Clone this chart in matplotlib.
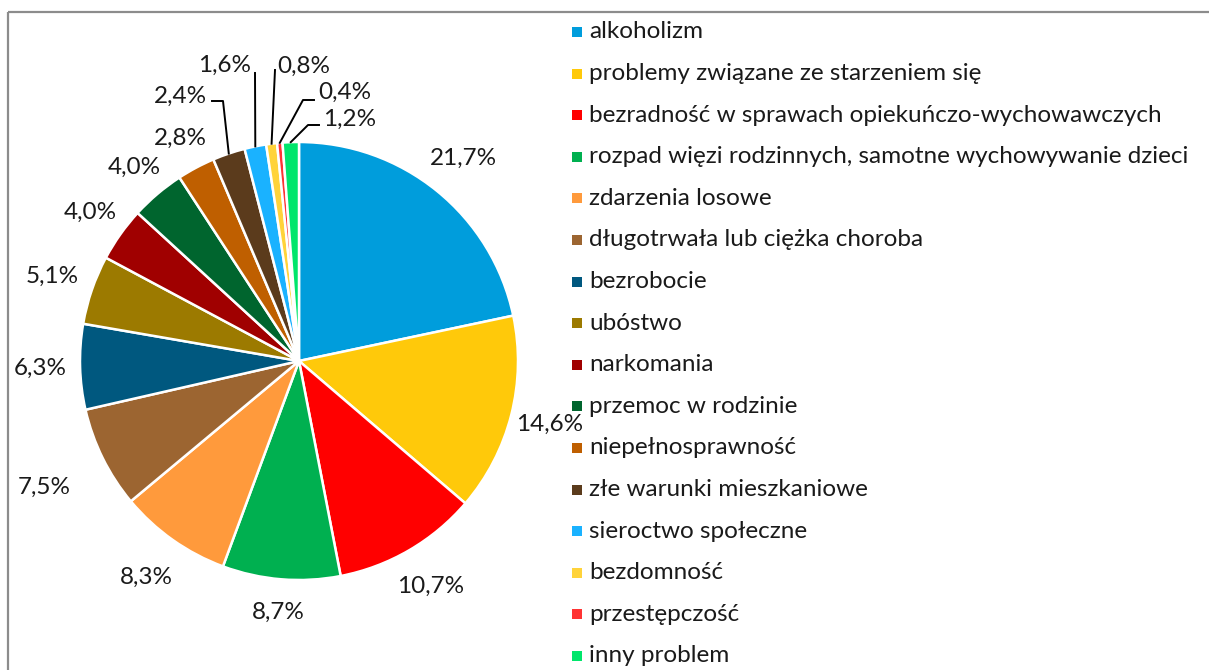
import numpy as np
import matplotlib.pyplot as plt
from matplotlib.patches import Rectangle

plt.rcParams['font.family'] = ['Lato', 'DejaVu Sans']

categories = ['alkoholizm',
              'problemy związane ze starzeniem się',
              'bezradność w sprawach opiekuńczo-wychowawczych',
              'rozpad więzi rodzinnych, samotne wychowywanie dzieci',
              'zdarzenia losowe',
              'długotrwała lub ciężka choroba',
              'bezrobocie',
              'ubóstwo',
              'narkomania',
              'przemoc w rodzinie',
              'niepełnosprawność',
              'złe warunki mieszkaniowe',
              'sieroctwo społeczne',
              'bezdomność',
              'przestępczość',
              'inny problem']
values = [21.7, 14.6, 10.7, 8.7, 8.3, 7.5, 6.3, 5.1, 4.0, 4.0, 2.8, 2.4, 1.6, 0.8, 0.4, 1.2]
colors = ['#009DDC', '#FFC90A', '#FF0000', '#00B050', '#FF9A3C', '#9C6531',
          '#00587F', '#9C7A00', '#A00000', '#00652E', '#BF5F00', '#5B3B1C',
          '#1AB2FF', '#FFD33A', '#FF3333', '#00E66B']

W, H = 1209, 670
fig = plt.figure(figsize=(W / 100, H / 100), dpi=100)
ax = fig.add_axes([0, 0, 1, 1])

def py(y):
    return H - y

cx, cy, R = 299, py(361), 219
wedges, _ = ax.pie(values, colors=colors, startangle=90, counterclock=False,
                   center=(cx, cy), radius=R, frame=True,
                   wedgeprops=dict(edgecolor='white', linewidth=1.8))
ax.set_xlim(0, W)
ax.set_ylim(0, H)
ax.axis('off')

labels = [f'{v:.1f}%'.replace('.', ',') for v in values]
fs = 17.5
tc = '#1a1a1a'

# distance factors for the labels placed around the pie
dist = [1.19, 1.18, 1.19, 1.15, 1.21, 1.30, 1.18, 1.19, 1.17, 1.16, 1.15]
for i, w in enumerate(wedges[:len(dist)]):
    a = np.deg2rad((w.theta1 + w.theta2) / 2)
    ax.text(cx + dist[i] * R * np.cos(a), cy + dist[i] * R * np.sin(a), labels[i],
            ha='center', va='center', fontsize=fs, color=tc)

# small slices: text offset, elbow point and tail length (px from centre, y down)
small = {11: ((-119, -265), (-76, -260), -11),
         12: ((-74, -296), (-44, -288), 0),
         13: ((5, -295), (-24, -291), 0),
         14: ((46, -269), (4, -261), 11),
         15: ((51, -242), (9, -236), 11)}
for i, (toff, eoff, tail) in small.items():
    w = wedges[i]
    a = np.deg2rad((w.theta1 + w.theta2) / 2)
    ex, ey = cx + R * np.cos(a), cy + R * np.sin(a)
    bx, by = cx + eoff[0], cy - eoff[1]
    xs, ys = [ex, bx], [ey, by]
    if tail:
        xs.append(bx + tail)
        ys.append(by)
    ax.plot(xs, ys, color='black', lw=1.4)
    ax.text(cx + toff[0], cy - toff[1], labels[i], ha='center', va='center',
            fontsize=fs, color=tc)

# legend
y0, step = 32, 41.6
for i, (c, name) in enumerate(zip(colors, categories)):
    y = py(y0 + i * step)
    ax.add_patch(Rectangle((572, y - 5), 10, 10, facecolor=c, edgecolor='none'))
    ax.text(589, y, name, ha='left', va='center', fontsize=fs, color=tc)

# frame
ax.plot([8, W], [py(12), py(12)], color='#8c8c8c', lw=1.6, solid_capstyle='butt')
ax.plot([8, 8], [py(12), 0], color='#8c8c8c', lw=1.6, solid_capstyle='butt')

fig.savefig('out.png', dpi=100)
